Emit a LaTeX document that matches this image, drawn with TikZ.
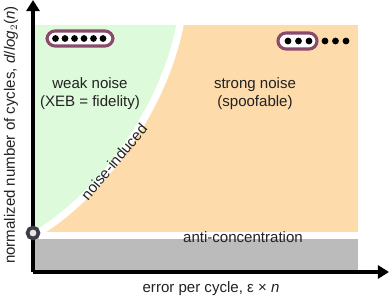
\documentclass[tikz,border=0pt]{standalone}
\usepackage{fontspec}
\setmainfont{Liberation Sans}
\usetikzlibrary{arrows.meta}

\definecolor{weakgreen}{HTML}{DDFADA}
\definecolor{strongorange}{HTML}{FDDBAA}
\definecolor{floorgray}{HTML}{BBBBBB}
\definecolor{capsule}{HTML}{8A4A6C}
\definecolor{inktext}{HTML}{222222}
\definecolor{ringgray}{HTML}{3C3C48}
\definecolor{ringfill}{HTML}{E8E4E0}

\tikzset{
  axis/.style={line width=2.5pt, -{Triangle[length=0.28cm, width=0.33cm]}},
  regionlabel/.style={text=inktext, align=center, font=\fontsize{10.7}{12.8}\selectfont},
  axislabel/.style={text=inktext, font=\fontsize{10.7}{12.8}\selectfont},
  qubit/.style={circle, fill=black, inner sep=0pt, minimum size=0.17cm},
  capsulebox/.style={draw=capsule, line width=2.2pt, fill=white, rounded corners=0.2cm}
}

\begin{document}
\begin{tikzpicture}[x=0.025cm, y=-0.025cm]
\useasboundingbox (0,0) rectangle (389,300);

% regions
\fill[strongorange] (35,25) rectangle (358,232);
\fill[weakgreen] (35,25) -- (181,25) .. controls (165,110) and (100,195) .. (38,233) -- (35,233) -- cycle;
\draw[white, line width=0.18cm] (181,20) .. controls (165,110) and (100,195) .. (38,233);
\fill[floorgray] (35,239) rectangle (358,271);

% axes
\draw[axis] (33,272) -- (33,0);
\draw[axis] (33,272) -- (389,272);

% threshold point
\draw[ringgray, fill=ringfill, line width=0.09cm] (33,233) circle (5.5);

% qubit chains
\draw[capsulebox] (47,31) rectangle (113,46);
\foreach \i in {0,...,5} {
  \node[qubit] (wq\i) at (55.5+9.5*\i,38.5) {};
}
\draw[capsulebox] (278,33) rectangle (317,49);
\foreach \i in {0,1,2} {
  \node[qubit] (sq\i) at (288+10.5*\i,41) {};
  \node[qubit] (rq\i) at (325+10.5*\i,41) {};
}

% labels
\node[regionlabel] (weak) at (90,94) {weak noise\\(XEB = fidelity)};
\node[regionlabel] (strong) at (255,94) {strong noise\\(spoofable)};
\node[regionlabel, rotate=50] (induced) at (114,162) {noise-induced};
\node[regionlabel] (anti) at (243,237) {anti-concentration};
\node[axislabel] (xlab) at (211,289) {error per cycle, ε × \textit{n}};
\node[axislabel, rotate=90] (ylab) at (11,135) {normalized number of cycles, \textit{d}/\textit{log}$_2$(\textit{n})};
\end{tikzpicture}
\end{document}
